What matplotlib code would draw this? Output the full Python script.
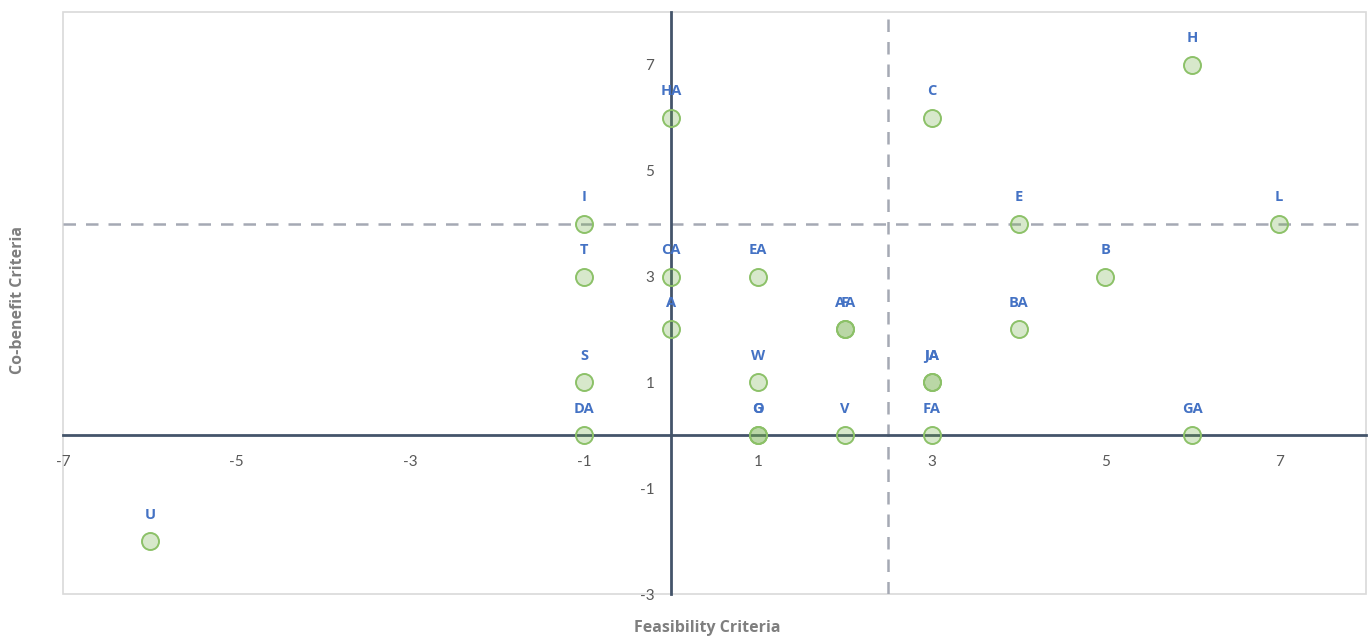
#Feasibility vs co-benefit quadrant chart
import matplotlib
matplotlib.use("Agg")
import matplotlib.pyplot as plt
from matplotlib.patches import Rectangle

plt.rcParams['font.family'] = ['Lato', 'DejaVu Sans']
plt.rcParams['axes.unicode_minus'] = False #plain hyphens like the reference
BOLD_FONT = ['Open Sans', 'DejaVu Sans'] #Lato bold not available, use this for bold text

#Data
labels = ["H", "HA", "C", "I", "E", "L", "T", "CA", "EA", "B",
          "A", "AA", "F", "BA", "S", "W", "IA", "JA",
          "DA", "G", "O", "V", "FA", "GA", "U"]
feasibility = [6, 0, 3, -1, 4, 7, -1, 0, 1, 5,
               0, 2, 2, 4, -1, 1, 3, 3,
               -1, 1, 1, 2, 3, 6, -6]
cobenefit = [7, 6, 6, 4, 4, 4, 3, 3, 3, 3,
             2, 2, 2, 2, 1, 1, 1, 1,
             0, 0, 0, 0, 0, 0, -2]
x_ticks = [-7, -5, -3, -1, 1, 3, 5, 7]
y_ticks = [-3, -1, 1, 3, 5, 7]
x_threshold = 2.5 #dashed split lines
y_threshold = 4

fig = plt.figure(figsize=(13.7, 6.39), dpi=100)
ax = fig.add_axes([63 / 1370, 45 / 639, 1303 / 1370, 582 / 639])
ax.set_xlim(-7, 8)
ax.set_ylim(-3, 8)

#Light plot area border
ax.add_patch(Rectangle((0, 0), 1, 1, transform=ax.transAxes, fill=False,
                       edgecolor="#d9d9d9", lw=1.2, zorder=0, clip_on=False))

#Axes cross at the origin
for side in ["top", "right"]:
    ax.spines[side].set_visible(False)
for side in ["left", "bottom"]:
    ax.spines[side].set_position(("data", 0))
    ax.spines[side].set_color("#44546a")
    ax.spines[side].set_linewidth(2)
    ax.spines[side].set_zorder(1)

ax.set_xticks(x_ticks)
ax.set_yticks(y_ticks)
ax.tick_params(length=0, labelsize=11, labelcolor="#595959")
ax.tick_params(axis="x", pad=14)
ax.tick_params(axis="y", pad=12)

#Dashed threshold lines
ax.axvline(x_threshold, color="#a5a9b4", ls=(0, (5, 4)), lw=1.8, zorder=1)
ax.axhline(y_threshold, color="#a5a9b4", ls=(0, (5, 4)), lw=1.8, zorder=1)

ax.scatter(feasibility, cobenefit, s=150, facecolor=(0.44, 0.68, 0.28, 0.28),
           edgecolor="#8cc168", linewidth=1.4, zorder=3)

for lab, x, y in zip(labels, feasibility, cobenefit):
    ax.annotate(lab, (x, y), xytext=(0, 14), textcoords="offset points",
                ha="center", va="bottom", fontsize=10.5, fontweight="bold",
                family=BOLD_FONT, color="#4472c4", zorder=4)

fig.text(707 / 1370, 1 - 628 / 639, "Feasibility Criteria", ha="center", va="center",
         fontsize=11.5, fontweight="bold", family=BOLD_FONT, color="#7f7f7f")
fig.text(18 / 1370, 1 - 300 / 639, "Co-benefit Criteria", ha="center", va="center",
         rotation=90, fontsize=11.5, fontweight="bold", family=BOLD_FONT, color="#7f7f7f")

fig.savefig("out.png", dpi=100)
